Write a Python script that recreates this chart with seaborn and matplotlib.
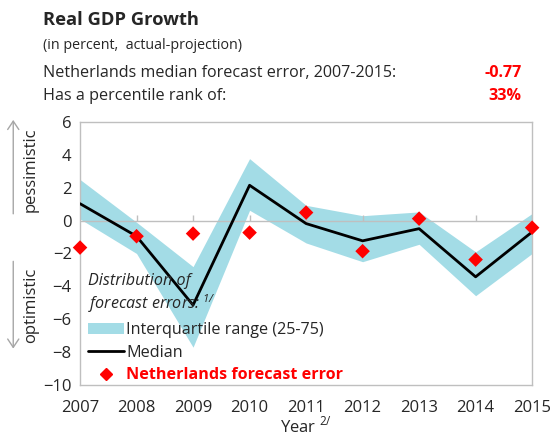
import pandas as pd
import matplotlib.pyplot as plt
import seaborn as sns
from matplotlib.patches import Patch, FancyArrowPatch
from matplotlib.lines import Line2D

# =========================
# DATA
# =========================
years = [2007, 2008, 2009, 2010, 2011, 2012, 2013, 2014, 2015]
median = [1.03, -0.95, -5.14, 2.15, -0.18, -1.23, -0.49, -3.42, -0.69]
q75 = [2.5, -0.1, -2.8, 3.77, 0.93, 0.3, 0.53, -1.9, 0.43]
q25 = [0.1, -2.0, -7.7, 0.63, -1.36, -2.5, -1.44, -4.57, -2.0]
nld = [-1.64, -0.95, -0.79, -0.73, 0.49, -1.86, 0.12, -2.37, -0.43]

df = pd.DataFrame({"Year": years, "Median": median, "Q25": q25, "Q75": q75, "NLD": nld})

# =========================
# STYLE
# =========================
sns.set_style("white")
plt.rcParams["font.family"] = ["Open Sans", "DejaVu Sans"]

band_color = "#a3dce6"
red = "#ff0000"
gray = "#bfbfbf"
fs = 11.6

fig = plt.figure(figsize=(5.52, 4.42), dpi=100)
ax = fig.add_axes([0.145, 0.129, 0.819, 0.595])

# =========================
# PLOT
# =========================
ax.fill_between(df["Year"], df["Q25"], df["Q75"], color=band_color, linewidth=0)
ax.axhline(0, color=gray, linewidth=1, zorder=1.5)
ax.vlines(df["Year"][1:], 0, 0.35, color=gray, linewidth=1, zorder=1.5)
sns.lineplot(data=df, x="Year", y="Median", color="black", linewidth=2, ax=ax, zorder=3)
sns.scatterplot(data=df, x="Year", y="NLD", color=red, marker="D", s=55,
                edgecolor="none", ax=ax, zorder=4, clip_on=False)

ax.set_xlim(2007, 2015)
ax.set_ylim(-10, 6)
ax.set_yticks(range(-10, 7, 2))
ax.set_xticks(years)
ax.tick_params(axis="y", labelsize=fs + 0.4, length=0, pad=6)
ax.tick_params(axis="x", labelsize=fs + 0.4, length=0, pad=11)
ax.set_ylabel("")
ax.set_xlabel(r"Year $^{\mathregular{2/}}$", fontsize=fs + 0.4, labelpad=0)
for s in ax.spines.values():
    s.set_color(gray)
    s.set_linewidth(1)

# =========================
# LEGEND
# =========================
handles = [
    Patch(facecolor=band_color, edgecolor="none"),
    Line2D([], [], color="black", linewidth=2),
    Line2D([], [], color=red, marker="D", linestyle="none", markersize=6),
]
labels = ["Interquartile range (25-75)", "Median", "Netherlands forecast error"]
leg = ax.legend(handles, labels, loc="lower left", bbox_to_anchor=(0.015, 0.0),
                frameon=False, fontsize=fs,
                title="Distribution of\nforecast errors: $^{\\mathregular{1/}}$",
                title_fontproperties={"style": "italic", "size": fs},
                alignment="left", handlelength=2.2, handletextpad=0.15,
                labelspacing=0.42, borderpad=0.0, borderaxespad=0.1)
leg.get_texts()[2].set_color(red)
leg.get_texts()[2].set_fontweight("bold")

# =========================
# ARROWS + SIDE LABELS
# =========================
fig.patches.append(FancyArrowPatch(
    (0.024, 0.51), (0.024, 0.735), transform=fig.transFigure,
    arrowstyle="->,head_length=6,head_width=4", color="#a6a6a6", lw=1))
fig.patches.append(FancyArrowPatch(
    (0.024, 0.415), (0.024, 0.205), transform=fig.transFigure,
    arrowstyle="->,head_length=6,head_width=4", color="#a6a6a6", lw=1))
fig.text(0.056, 0.615, "pessimistic", rotation=90, ha="center", va="center", fontsize=fs + 0.4)
fig.text(0.056, 0.31, "optimistic", rotation=90, ha="center", va="center", fontsize=fs + 0.4)

# =========================
# HEADER TEXT
# =========================
fig.text(0.078, 0.955, "Real GDP Growth", fontsize=13.2, fontweight="bold", va="center")
fig.text(0.078, 0.897, "(in percent,  actual-projection)", fontsize=10.3, va="center")
fig.text(0.078, 0.835, "Netherlands median forecast error, 2007-2015:", fontsize=fs, va="center")
fig.text(0.078, 0.783, "Has a percentile rank of:", fontsize=fs, va="center")
fig.text(0.945, 0.835, "-0.77", fontsize=fs, fontweight="bold", color=red, ha="right", va="center")
fig.text(0.945, 0.783, "33%", fontsize=fs, fontweight="bold", color=red, ha="right", va="center")

fig.savefig("out.png", dpi=100)
